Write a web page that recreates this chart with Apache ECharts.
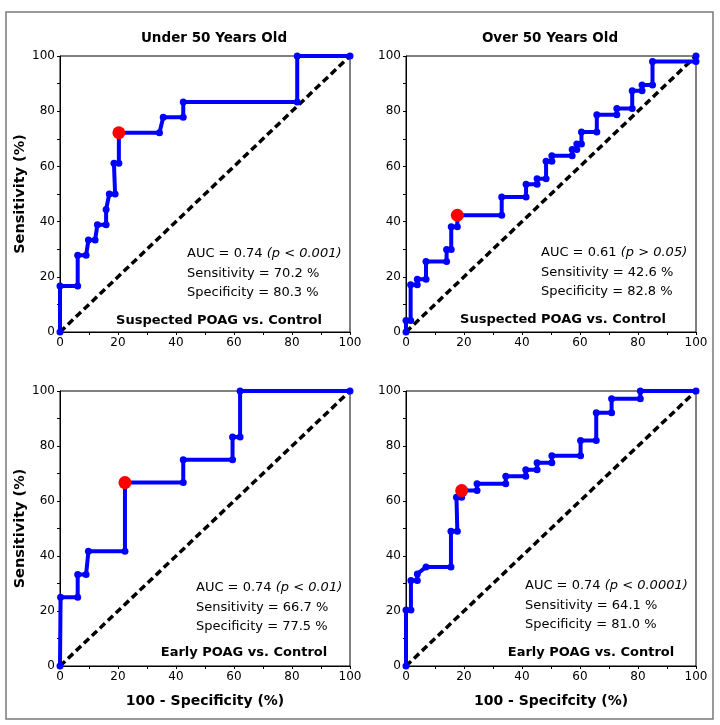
<!DOCTYPE html>
<html>
<head>
<meta charset="UTF-8">
<title>ROC</title>
<script src="https://cdn.jsdelivr.net/npm/echarts@6/dist/echarts.min.js"></script>
<style>
  html, body { margin: 0; padding: 0; background: #fff; }
  #main { width: 720px; height: 725px; }
</style>
</head>
<body>
<div id="main"></div>
<script>
// ROC curves: x = 100 - specificity (%), y = sensitivity (%)
var u50SuspX = [0, 0, 6.1, 6.1, 9.0, 9.8, 12.1, 12.9, 15.9, 15.9, 17.0, 19.0, 18.6, 20.3, 20.3, 34.3, 35.6, 42.5, 42.5, 81.8, 81.8, 100];
var u50SuspY = [0, 16.7, 16.7, 27.8, 27.8, 33.3, 33.3, 38.9, 38.9, 44.4, 50.0, 50.0, 61.1, 61.1, 72.2, 72.2, 77.8, 77.8, 83.3, 83.3, 100, 100];
var o50SuspX = [0, 0, 1.6, 1.6, 3.9, 3.9, 6.9, 6.9, 14.0, 14.0, 15.6, 15.6, 17.7, 17.7, 33.0, 33.0, 41.4, 41.4, 45.2, 45.2, 48.3, 48.3, 50.3, 50.3, 57.3, 57.3, 58.9, 58.9, 60.5, 60.5, 65.8, 65.8, 72.7, 72.7, 78.0, 78.0, 81.4, 81.4, 85.0, 85.0, 100, 100];
var o50SuspY = [0, 4.2, 4.2, 17.1, 17.1, 19.1, 19.1, 25.5, 25.5, 29.9, 29.9, 38.1, 38.1, 42.3, 42.3, 48.9, 48.9, 53.5, 53.5, 55.5, 55.5, 61.9, 61.9, 63.9, 63.9, 66.1, 66.1, 68.1, 68.1, 72.5, 72.5, 78.7, 78.7, 81.0, 81.0, 87.4, 87.4, 89.5, 89.5, 98.0, 98.0, 100];
var u50EarlyX = [0, 0.2, 6.1, 6.1, 9.0, 9.8, 22.4, 22.4, 42.5, 42.5, 59.5, 59.5, 62.1, 62.1, 100];
var u50EarlyY = [0, 25.0, 25.0, 33.3, 33.3, 41.7, 41.7, 66.7, 66.7, 75.0, 75.0, 83.3, 83.3, 100, 100];
var o50EarlyX = [0, 0, 1.7, 1.7, 3.9, 3.9, 6.9, 15.5, 15.5, 17.7, 17.4, 19.2, 19.2, 24.5, 24.5, 34.4, 34.4, 41.3, 41.3, 45.2, 45.2, 50.3, 50.3, 60.2, 60.2, 65.6, 65.6, 70.9, 70.9, 80.8, 80.8, 100];
var o50EarlyY = [0, 20.4, 20.4, 31.1, 31.1, 33.5, 36.0, 36.0, 49.0, 49.0, 61.4, 61.4, 63.8, 63.8, 66.3, 66.3, 69.0, 69.0, 71.4, 71.4, 73.9, 73.9, 76.5, 76.5, 82.0, 82.0, 92.1, 92.1, 97.2, 97.2, 100, 100];
// optimal cut-off points
var cutX = [20.3, 17.7, 22.4, 19.2];
var cutY = [72.2, 42.3, 66.7, 63.8];
var diagonal = [[0, 0], [100, 100]];

var aucText = [
  'AUC = 0.74 {i|(p < 0.001)}\nSensitivity = 70.2 %\nSpecificity = 80.3 %',
  'AUC = 0.61 {i|(p > 0.05)}\nSensitivity = 42.6 %\nSpecificity = 82.8 %',
  'AUC = 0.74 {i|(p < 0.01)}\nSensitivity = 66.7 %\nSpecificity = 77.5 %',
  'AUC = 0.74 {i|(p < 0.0001)}\nSensitivity = 64.1 %\nSpecificity = 81.0 %'
];
var groupText = ['Suspected POAG vs. Control', 'Suspected POAG vs. Control', 'Early POAG vs. Control', 'Early POAG vs. Control'];

var curvesX = [u50SuspX, o50SuspX, u50EarlyX, o50EarlyX];
var curvesY = [u50SuspY, o50SuspY, u50EarlyY, o50EarlyY];

var FONT = 'DejaVu Sans';
var grids = [
  {left: 60, top: 56, width: 290, height: 276},
  {left: 406, top: 56, width: 290, height: 276},
  {left: 60, top: 391, width: 290, height: 275},
  {left: 406, top: 391, width: 290, height: 275}
];
var aucPos = [[187, 244], [541, 243], [196, 578], [525, 576]];
var groupPos = [[219, 314], [563, 313], [244, 646], [591, 646]];
var xNames = ['', '', '100 - Specificity (%)', '100 - Specifcity (%)'];
var yNames = ['Sensitivity (%)', '', 'Sensitivity (%)', ''];

function zip(xs, ys) {
    var out = [];
    for (var i = 0; i < xs.length; i++) out.push([xs[i], ys[i]]);
    return out;
}

var titles = [
  {text: 'Under 50 Years Old', left: 214, top: 31, textAlign: 'center', padding: 0,
   textStyle: {fontFamily: FONT, fontSize: 13.5, fontWeight: 'bold', color: '#000'}},
  {text: 'Over 50 Years Old', left: 550, top: 31, textAlign: 'center', padding: 0,
   textStyle: {fontFamily: FONT, fontSize: 13.5, fontWeight: 'bold', color: '#000'}}
];
var xAxes = [], yAxes = [], series = [];

for (var k = 0; k < 4; k++) {
    titles.push({
        text: aucText[k], left: aucPos[k][0], top: aucPos[k][1], padding: 0,
        textStyle: {fontFamily: FONT, fontSize: 13, fontWeight: 'normal', color: '#000', lineHeight: 19.5,
            rich: {i: {fontFamily: FONT, fontSize: 13, fontStyle: 'italic', color: '#000', lineHeight: 19.5}}}
    });
    titles.push({
        text: groupText[k], left: groupPos[k][0], top: groupPos[k][1], textAlign: 'center', padding: 0,
        textStyle: {fontFamily: FONT, fontSize: 13, fontWeight: 'bold', color: '#000'}
    });

    xAxes.push({
        type: 'value', gridIndex: k, min: 0, max: 100, interval: 20,
        name: xNames[k], nameLocation: 'middle', nameGap: 28,
        nameTextStyle: {fontFamily: FONT, fontSize: 14, fontWeight: 'bold', color: '#000'},
        axisLine: {show: true, lineStyle: {color: '#000', width: 1}},
        axisTick: {show: true, length: 3, lineStyle: {color: '#000'}},
        minorTick: {show: true, splitNumber: 2, length: 3, lineStyle: {color: '#000'}},
        axisLabel: {fontFamily: FONT, fontSize: 12, color: '#000', margin: 5},
        splitLine: {show: false}
    });
    yAxes.push({
        type: 'value', gridIndex: k, min: 0, max: 100, interval: 20,
        name: yNames[k], nameLocation: 'middle', nameGap: 24,
        nameTextStyle: {fontFamily: FONT, fontSize: 14.5, fontWeight: 'bold', color: '#000'},
        axisLine: {show: true, lineStyle: {color: '#000', width: 1}},
        axisTick: {show: true, length: 3, lineStyle: {color: '#000'}},
        minorTick: {show: true, splitNumber: 2, length: 3, lineStyle: {color: '#000'}},
        axisLabel: {fontFamily: FONT, fontSize: 12, color: '#000', margin: 5},
        splitLine: {show: false}
    });

    series.push({
        type: 'line', xAxisIndex: k, yAxisIndex: k, data: diagonal,
        symbol: 'none', silent: true, z: 2,
        lineStyle: {color: '#000', width: 3.5, type: [7, 4]}
    });
    series.push({
        type: 'line', xAxisIndex: k, yAxisIndex: k, data: zip(curvesX[k], curvesY[k]),
        symbol: 'circle', symbolSize: 7, clip: false, z: 3,
        lineStyle: {color: '#0000ff', width: 4},
        itemStyle: {color: '#0000ff'}
    });
    series.push({
        type: 'scatter', xAxisIndex: k, yAxisIndex: k, data: [[cutX[k], cutY[k]]],
        symbol: 'circle', symbolSize: 13, z: 4,
        itemStyle: {color: '#ff0000', opacity: 1}
    });
}

var myChart = echarts.init(document.getElementById('main'));
option = {
    animation: false,
    backgroundColor: '#fff',
    title: titles,
    grid: grids.map(function (g) {
        return {left: g.left, top: g.top, width: g.width, height: g.height,
                show: true, borderColor: '#000', borderWidth: 1, backgroundColor: 'transparent'};
    }),
    xAxis: xAxes,
    yAxis: yAxes,
    series: series,
    graphic: [{
        type: 'rect', shape: {x: 6, y: 12, width: 707, height: 707},
        style: {fill: 'none', stroke: '#7a7a7a', lineWidth: 1.5}, silent: true
    }]
};
myChart.setOption(option);
</script>
</body>
</html>
